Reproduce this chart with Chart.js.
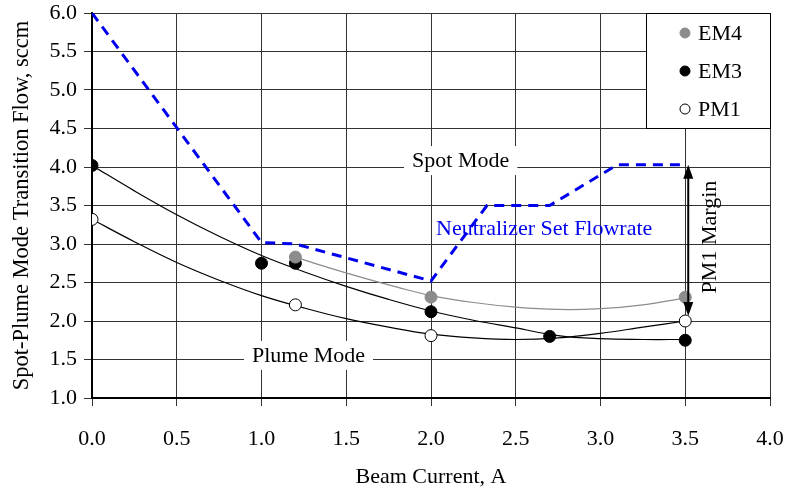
<!DOCTYPE html>
<html>
<head>
<meta charset="utf-8">
<script src="https://cdn.jsdelivr.net/npm/chart.js@4/dist/chart.umd.min.js"></script>
<style>
  html, body { margin:0; padding:0; background:#fff; }
  #wrap { width:786px; height:490px; position:relative; }
</style>
</head>
<body>
<div id="wrap"><canvas id="chart"></canvas></div>
<script>
// measured points
const em4X = [1.2, 2.0, 3.5];
const em4Y = [2.83, 2.31, 2.31];
const em3X = [0, 1.0, 1.2, 2.0, 2.7, 3.5];
const em3Y = [4.02, 2.75, 2.75, 2.12, 1.80, 1.75];
const pm1X = [0, 1.2, 2.0, 3.5];
const pm1Y = [3.32, 2.21, 1.81, 2.0];

// trend curves
const em4FitX = [1.2, 1.4, 1.6, 1.8, 2.0, 2.25, 2.5, 2.75, 3.0, 3.25, 3.5];
const em4FitY = [2.83, 2.69, 2.56, 2.44, 2.33, 2.24, 2.18, 2.15, 2.16, 2.21, 2.30];
const em3FitX = [0, 0.25, 0.5, 0.75, 1.0, 1.25, 1.5, 1.75, 2.0, 2.25, 2.5, 2.75, 3.0, 3.25, 3.5];
const em3FitY = [4.02, 3.69, 3.38, 3.10, 2.85, 2.64, 2.45, 2.28, 2.13, 2.01, 1.91, 1.81, 1.77, 1.76, 1.76];
const pm1FitX = [0, 0.25, 0.5, 0.75, 1.0, 1.25, 1.5, 1.75, 2.0, 2.25, 2.5, 2.75, 3.0, 3.25, 3.5];
const pm1FitY = [3.32, 3.03, 2.76, 2.53, 2.33, 2.17, 2.03, 1.92, 1.83, 1.78, 1.76, 1.78, 1.84, 1.92, 2.0];

// neutralizer set flowrate
const flowX = [0, 1.0, 1.2, 2.0, 2.33, 2.7, 3.1, 3.5];
const flowY = [6.0, 3.02, 3.0, 2.52, 3.5, 3.5, 4.03, 4.03];

// PM1 margin arrow (x, top, bottom)
const marginX = 3.5;
const marginTop = 4.03;
const marginBottom = 2.0;

const xTicks = [0, 0.5, 1.0, 1.5, 2.0, 2.5, 3.0, 3.5, 4.0];
const yTicks = [1.0, 1.5, 2.0, 2.5, 3.0, 3.5, 4.0, 4.5, 5.0, 5.5, 6.0];

const FONT = '"Liberation Serif", "Times New Roman", serif';
const pts = (xs, ys) => xs.map((x, i) => ({x, y: ys[i]}));

// text notes on the plot
const notes = [
  {text:'Spot Mode', x:2.175, y:4.09, color:'#000', bg:true},
  {text:'Plume Mode', x:1.277, y:1.56, color:'#000', bg:true},
  {text:'Neutralizer Set Flowrate', x:2.03, y:3.21, color:'#0000ee', align:'left'},
  {text:'PM1 Margin', x:3.64, y:3.09, color:'#000', rotate:true}
];

const notesPlugin = {
  id:'notes',
  beforeDatasetsDraw(chart){
    const {ctx, scales:{x, y}} = chart;
    ctx.save();
    ctx.font = '22px ' + FONT;
    ctx.textBaseline = 'middle';
    notes.forEach(n => {
      const px = x.getPixelForValue(n.x), py = y.getPixelForValue(n.y);
      ctx.save();
      ctx.translate(px, py);
      if(n.rotate) ctx.rotate(-Math.PI/2);
      const w = ctx.measureText(n.text).width;
      const left = n.align === 'left' ? 0 : -w/2;
      if(n.bg){
        ctx.fillStyle = '#fff';
        ctx.fillRect(left - 8, -14, w + 16, 29);
      }
      ctx.fillStyle = n.color;
      ctx.textAlign = 'left';
      ctx.fillText(n.text, left, 1);
      ctx.restore();
    });
    ctx.restore();
  },
  afterDatasetsDraw(chart){
    const {ctx, scales:{x, y}, chartArea} = chart;
    ctx.save();
    // margin arrow
    const ax = x.getPixelForValue(marginX) + 3;
    const at = y.getPixelForValue(marginTop), ab = y.getPixelForValue(marginBottom);
    ctx.strokeStyle = '#000'; ctx.fillStyle = '#000'; ctx.lineWidth = 2;
    ctx.beginPath(); ctx.moveTo(ax, at + 10); ctx.lineTo(ax, ab - 10); ctx.stroke();
    ctx.beginPath(); ctx.moveTo(ax, at); ctx.lineTo(ax - 5, at + 14); ctx.lineTo(ax + 5, at + 14); ctx.closePath(); ctx.fill();
    ctx.beginPath(); ctx.moveTo(ax, ab - 5); ctx.lineTo(ax - 5, ab - 19); ctx.lineTo(ax + 5, ab - 19); ctx.closePath(); ctx.fill();

    // legend box
    const bw = 124, bh = 115;
    const bx = chartArea.right - bw, by = chartArea.top;
    ctx.fillStyle = '#fff';
    ctx.fillRect(bx, by, bw, bh);
    ctx.strokeStyle = '#000'; ctx.lineWidth = 1;
    ctx.strokeRect(bx + 0.5, by + 0.5, bw, bh);
    ctx.font = '22px ' + FONT;
    ctx.textBaseline = 'middle';
    ctx.textAlign = 'left';
    chart.data.datasets.filter(d => d.inLegend).forEach((d, i) => {
      const ly = by + 20 + i * 38;
      ctx.beginPath();
      ctx.arc(bx + 39, ly, d.pointRadius - 1, 0, Math.PI * 2);
      ctx.fillStyle = d.pointBackgroundColor;
      ctx.fill();
      ctx.lineWidth = 1;
      ctx.strokeStyle = d.pointBorderColor;
      ctx.stroke();
      ctx.fillStyle = '#000';
      ctx.fillText(d.label, bx + 52, ly + 1);
    });
    ctx.restore();
  }
};

const pointSet = (label, xs, ys, fill, border) => ({
  label, inLegend:true, data:pts(xs, ys), showLine:false,
  pointRadius:6, pointHoverRadius:6, pointBackgroundColor:fill,
  pointBorderColor:border, pointBorderWidth:1
});
const lineSet = (label, xs, ys, color) => ({
  label, data:pts(xs, ys), showLine:true, borderColor:color, borderWidth:1.2,
  pointRadius:0, tension:0.4, fill:false
});

new Chart(document.getElementById('chart'), {
  type:'scatter',
  data:{
    datasets:[
      pointSet('EM4', em4X, em4Y, '#8c8c8c', '#8c8c8c'),
      pointSet('EM3', em3X, em3Y, '#000', '#000'),
      pointSet('PM1', pm1X, pm1Y, '#fff', '#000'),
      {label:'Neutralizer Set Flowrate', data:pts(flowX, flowY), showLine:true,
       borderColor:'#0000ee', borderWidth:3, borderDash:[10,7], pointRadius:0, tension:0},
      lineSet('EM4 fit', em4FitX, em4FitY, '#8c8c8c'),
      lineSet('EM3 fit', em3FitX, em3FitY, '#000'),
      lineSet('PM1 fit', pm1FitX, pm1FitY, '#000')
    ]
  },
  options:{
    responsive:true, maintainAspectRatio:false, animation:false,
    layout:{padding:{top:13, right:16, left:0, bottom:0}},
    plugins:{legend:{display:false}, tooltip:{enabled:false}},
    scales:{
      x:{
        type:'linear', min:0, max:4,
        afterBuildTicks: s => { s.ticks = xTicks.map(v => ({value:v})); },
        afterFit: s => { s.height = 92; s.paddingLeft = 0; s.paddingRight = 0; },
        ticks:{color:'#000', font:{family:FONT, size:22}, padding:20, callback:v => Number(v).toFixed(1), maxRotation:0},
        grid:{color:'#333', lineWidth:1, tickLength:8},
        border:{color:'#000', width:2},
        title:{display:true, text:'Beam Current, A', color:'#000', font:{family:FONT, size:22}, padding:{bottom:0, top:0}}
      },
      y:{
        type:'linear', min:1, max:6,
        afterBuildTicks: s => { s.ticks = yTicks.map(v => ({value:v})); },
        afterFit: s => { s.width = 92; s.paddingTop = 0; s.paddingBottom = 0; },
        ticks:{color:'#000', font:{family:FONT, size:22}, padding:7, callback:v => Number(v).toFixed(1)},
        grid:{color:'#333', lineWidth:1, tickLength:8},
        border:{color:'#000', width:2},
        title:{display:true, text:'Spot-Plume Mode Transition Flow, sccm', color:'#000', font:{family:FONT, size:22.5}, padding:{top:9, bottom:0}}
      }
    }
  },
  plugins:[notesPlugin]
});
</script>
</body>
</html>
